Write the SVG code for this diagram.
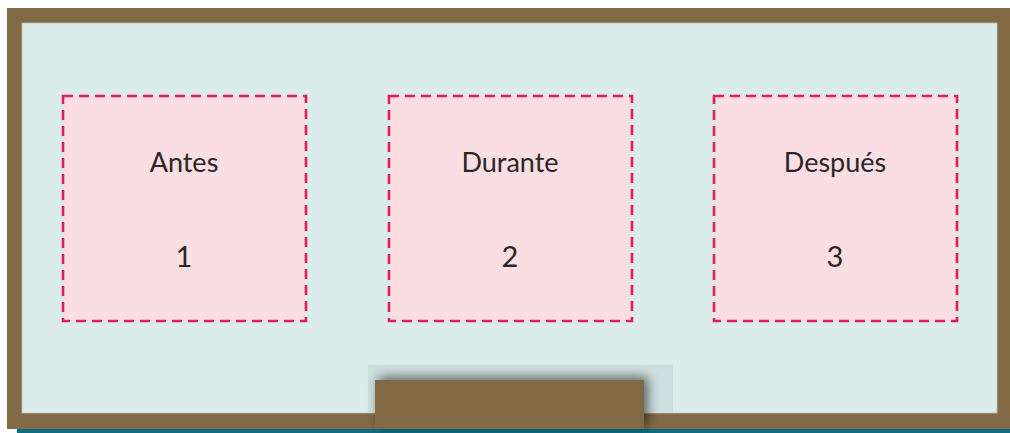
<svg xmlns="http://www.w3.org/2000/svg" width="1010" height="433" viewBox="0 0 1010 433">
<style>
.box{fill:#fbdee4;stroke:#e31c5a;stroke-width:2.6;stroke-dasharray:10 6}
.lbl{font-family:Lato,"Open Sans",sans-serif;font-size:27px;fill:#2a2627;text-anchor:middle}
.num{font-size:29px}
</style>
<defs>
<filter id="sh" x="-20%" y="-60%" width="140%" height="200%">
<feGaussianBlur in="SourceAlpha" stdDeviation="6"/>
<feOffset dx="4" dy="-3"/>
<feComponentTransfer><feFuncA type="linear" slope="0.55"/></feComponentTransfer>
<feMerge><feMergeNode/><feMergeNode in="SourceGraphic"/></feMerge>
</filter>
</defs>
<rect x="17" y="428" width="993" height="5" fill="#0e6d84"/>
<rect x="7" y="8" width="1003" height="421" fill="#826a47"/>
<rect x="22" y="23" width="975" height="390" fill="#dbecea" stroke="#b9c4b5" stroke-width="0.8"/>
<rect x="368" y="365" width="305" height="48" fill="#cddfde"/>
<rect x="375" y="380" width="269" height="49" fill="#826a47" filter="url(#sh)"/>
<g id="antes">
<rect class="box" x="63" y="96" width="243" height="225"/>
<text class="lbl" x="184" y="172">Antes</text>
<text class="lbl num" x="184" y="267">1</text>
</g>
<g id="durante">
<rect class="box" x="389" y="96" width="243" height="225"/>
<text class="lbl" x="510" y="172">Durante</text>
<text class="lbl num" x="510" y="267">2</text>
</g>
<g id="despues">
<rect class="box" x="714" y="96" width="243" height="225"/>
<text class="lbl" x="835" y="172">Después</text>
<text class="lbl num" x="835" y="267">3</text>
</g>
<g id="connectors"/>
</svg>
